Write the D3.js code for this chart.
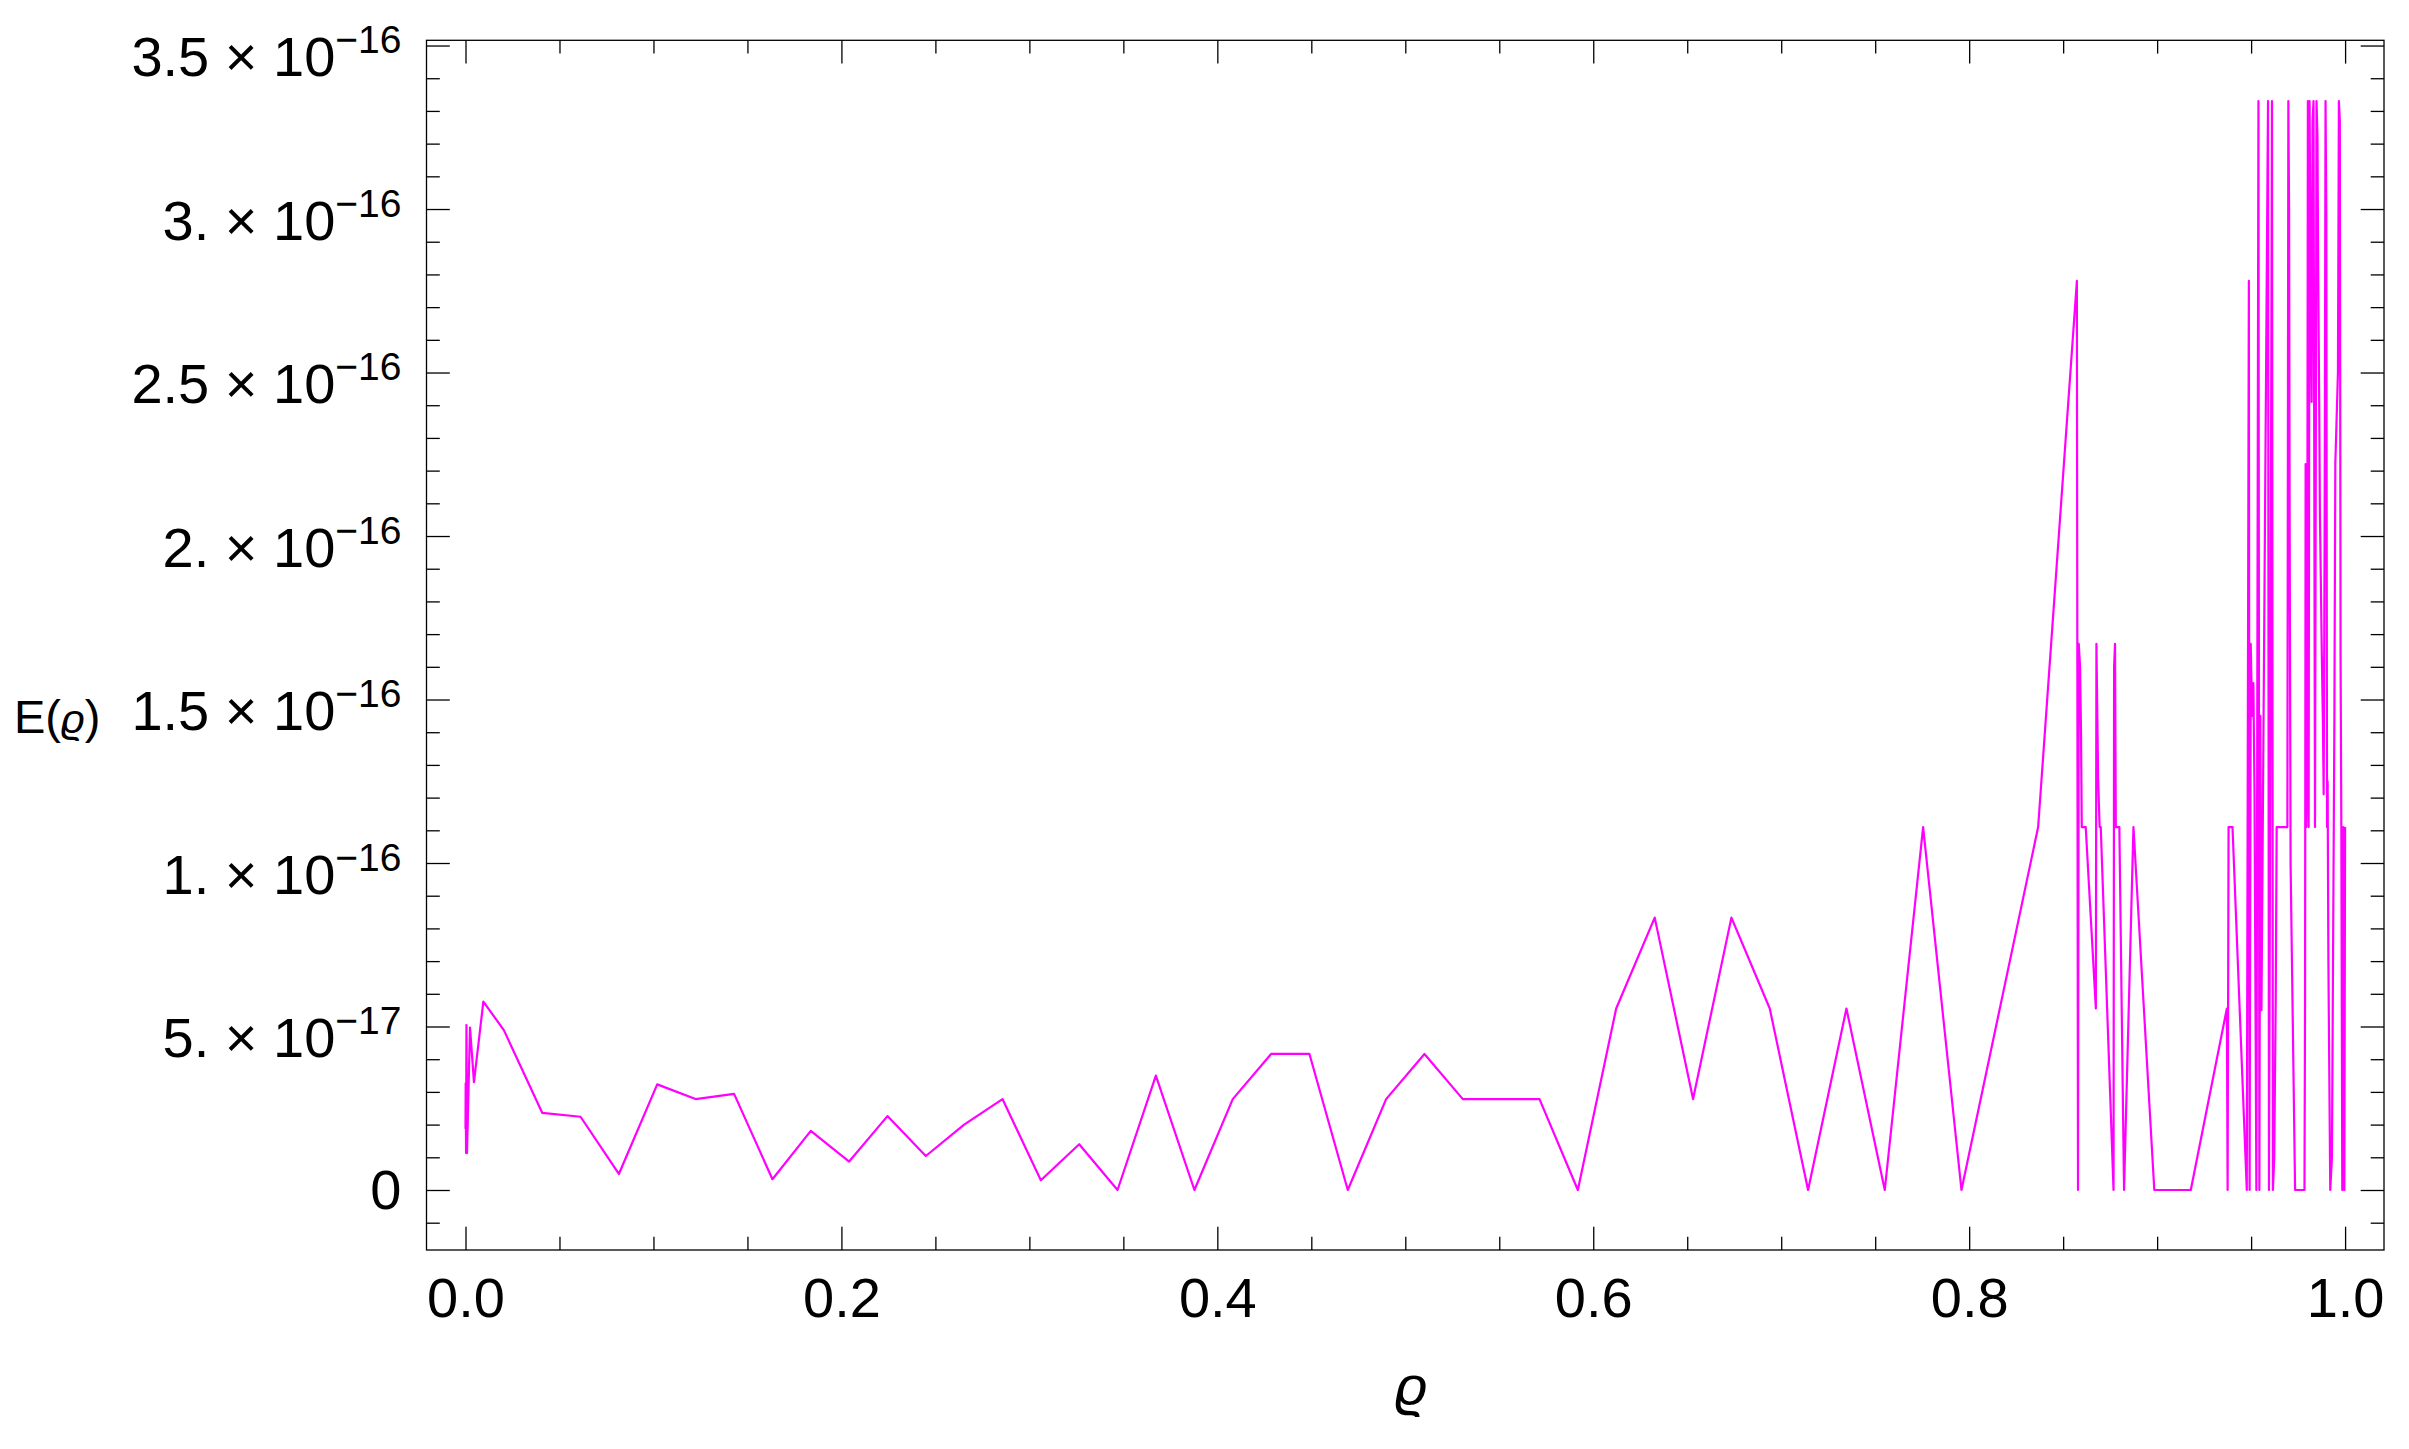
<!DOCTYPE html>
<html>
<head>
<meta charset="utf-8">
<script src="https://cdn.jsdelivr.net/npm/d3@7"></script>
<style>
  body { margin: 0; background: #fff; }
  svg { display: block; background: #fff; }
  text { font-family: "Liberation Sans", Arial, "DejaVu Sans", sans-serif; fill: #000; }
</style>
</head>
<body>
<svg id="svg" width="2409" height="1449"></svg>
<script>
// rho sample points and E(rho) (E in units of 1e-16)
const rhoVals = [
  0, 0.0001, 0.0003, 0.0005, 0.0008, 0.0024, 0.0045, 0.0095, 0.0204,
  0.0408, 0.0612, 0.0816, 0.1020, 0.1224, 0.1429, 0.1633, 0.1837, 0.2041, 0.2245,
  0.2449, 0.2653, 0.2857, 0.3061, 0.3265, 0.3469, 0.3673, 0.3878, 0.4082, 0.4286,
  0.4490, 0.4694, 0.4898, 0.5102, 0.5306, 0.5510, 0.5714, 0.5918, 0.6122, 0.6327,
  0.6531, 0.6735, 0.6939, 0.7143, 0.7347, 0.7551, 0.7755, 0.7959, 0.8163, 0.8367,
  0.8573, 0.8579, 0.8583, 0.8590, 0.8595, 0.8599, 0.8620, 0.8674, 0.8677, 0.8686,
  0.8694, 0.8700, 0.8768, 0.8771, 0.8776, 0.8780, 0.8799, 0.8824, 0.8874, 0.8985,
  0.9179, 0.9371, 0.9375, 0.9380, 0.9401, 0.9477, 0.9488, 0.9492, 0.9498, 0.9505,
  0.9512, 0.9518, 0.9528, 0.9539, 0.9544, 0.9549, 0.9555, 0.9590, 0.9595, 0.9601,
  0.9611, 0.9616, 0.9623, 0.9631, 0.9636, 0.9693, 0.9698, 0.9702, 0.9705, 0.9710,
  0.9734, 0.9784, 0.9787, 0.9790, 0.9793, 0.9798, 0.9802, 0.9806, 0.9811, 0.9816,
  0.9822, 0.9827, 0.9832, 0.9840, 0.9848, 0.9853, 0.9857, 0.9863, 0.9866, 0.9871,
  0.9876, 0.9882, 0.9886, 0.9891, 0.9896, 0.9900, 0.9904, 0.9907, 0.9911, 0.9917,
  0.9921, 0.9930, 0.9943, 0.9948, 0.9962, 0.9967, 0.9972, 0.9976, 0.9980, 0.9985,
  0.9991, 0.9996, 1.0
];
const errVals = [
  0.187, 0.326, 0.113, 0.504, 0.113, 0.497, 0.330, 0.576, 0.489,
  0.236, 0.224, 0.049, 0.323, 0.278, 0.294, 0.033, 0.181, 0.087, 0.226,
  0.104, 0.200, 0.278, 0.030, 0.140, 0, 0.350, 0, 0.278, 0.416,
  0.416, 0, 0.278, 0.416, 0.278, 0.278, 0.278, 0, 0.555, 0.833,
  0.278, 0.833, 0.555, 0, 0.555, 0, 1.11, 0, 0.555, 1.11,
  2.78, 0, 1.67, 1.60, 1.40, 1.11, 1.11, 0.555, 1.67, 1.26,
  1.11, 1.11, 0, 1.60, 1.67, 1.11, 1.11, 0, 1.11, 0,
  0, 0.555, 0, 1.11, 1.11, 0, 2.78, 0, 1.67, 1.45,
  1.55, 1.22, 0, 3.33, 0, 1.45, 0.55, 3.33, 0, 1.11,
  3.33, 0, 0.10, 0.59, 1.11, 1.11, 3.33, 3.00, 2.05, 1.00,
  0, 0, 0.58, 2.22, 1.11, 1.33, 3.33, 1.11, 3.33, 2.84,
  2.41, 3.27, 3.33, 1.11, 3.33, 3.22, 2.79, 2.35, 2.07, 1.86,
  1.64, 1.43, 1.21, 1.99, 3.33, 2.98, 1.11, 1.25, 0.71, 0.285,
  0, 0.10, 1.44, 2.22, 2.50, 3.33, 3.27, 1.63, 1.11, 0,
  1.11, 0, 1.11
];

const xTickValues = [0, 0.2, 0.4, 0.6, 0.8, 1.0];
const xTickLabels = ["0.0", "0.2", "0.4", "0.6", "0.8", "1.0"];
const yTickValues = [0, 0.5e-16, 1e-16, 1.5e-16, 2e-16, 2.5e-16, 3e-16, 3.5e-16];
const yTickMantissa = ["0", "5.", "1.", "1.5", "2.", "2.5", "3.", "3.5"];
const yTickExponent = ["", "\u221217", "\u221216", "\u221216", "\u221216", "\u221216", "\u221216", "\u221216"];

const data = rhoVals.map((r, i) => ({rho: r, e: errVals[i] * 1e-16}));

const svg = d3.select("#svg");
var frame = {left: 426.5, right: 2384, top: 40.3, bottom: 1250};

var x = d3.scaleLinear().domain([-0.02075, 1.0207]).range([frame.left, frame.right]);
var y = d3.scaleLinear().domain([-0.1835e-16, 3.516e-16]).range([frame.bottom, frame.top]);

const majorLen = 23.3, minorLen = 13.3;
const xMinor = d3.range(1, 20).map(i => i * 0.05).filter(v => Math.abs(v * 5 - Math.round(v * 5)) > 1e-6);
const yMinor = d3.range(-1, 36).map(i => i * 1e-17).filter((v, i) => (i - 1) % 5 !== 0);

function styleAxis(g) {
  g.attr("font-family", null).attr("font-size", null);
  g.select(".domain").remove();
  g.selectAll(".tick line").attr("stroke", "#000").attr("stroke-width", 1.3);
}

// bottom axis, ticks pointing inward
svg.append("g")
    .attr("transform", "translate(0," + frame.bottom + ")")
    .call(d3.axisBottom(x).tickValues(xMinor).tickSizeInner(-minorLen).tickSizeOuter(0).tickFormat(""))
    .call(styleAxis);
const xAxisG = svg.append("g")
    .attr("transform", "translate(0," + frame.bottom + ")")
    .call(d3.axisBottom(x).tickValues(xTickValues).tickSizeInner(-majorLen).tickSizeOuter(0)
      .tickPadding(27).tickFormat((d, i) => xTickLabels[i]))
    .call(styleAxis);
xAxisG.selectAll(".tick text").style("font-size", "56px");

// top axis (mirrored ticks, no labels)
svg.append("g")
    .attr("transform", "translate(0," + frame.top + ")")
    .call(d3.axisTop(x).tickValues(xMinor).tickSizeInner(-minorLen).tickSizeOuter(0).tickFormat(""))
    .call(styleAxis);
svg.append("g")
    .attr("transform", "translate(0," + frame.top + ")")
    .call(d3.axisTop(x).tickValues(xTickValues).tickSizeInner(-majorLen).tickSizeOuter(0).tickFormat(""))
    .call(styleAxis);

// left axis
svg.append("g")
    .attr("transform", "translate(" + frame.left + ",0)")
    .call(d3.axisLeft(y).tickValues(yMinor).tickSizeInner(-minorLen).tickSizeOuter(0).tickFormat(""))
    .call(styleAxis);
const yAxisG = svg.append("g")
    .attr("transform", "translate(" + frame.left + ",0)")
    .call(d3.axisLeft(y).tickValues(yTickValues).tickSizeInner(-majorLen).tickSizeOuter(0)
      .tickPadding(25).tickFormat(""))
    .call(styleAxis);

yAxisG.selectAll(".tick text").each(function(d, i) {
  const t = d3.select(this).attr("dy", null).style("font-size", "56px");
  if (!yTickExponent[i]) {
    t.attr("y", 19).text(yTickMantissa[i]);
    return;
  }
  t.attr("y", 30).text(null);
  t.append("tspan").text(yTickMantissa[i] + " \u00d7 10");
  t.append("tspan").attr("dy", -23).style("font-size", "39px").text(yTickExponent[i]);
});

// right axis
svg.append("g")
    .attr("transform", "translate(" + frame.right + ",0)")
    .call(d3.axisRight(y).tickValues(yMinor).tickSizeInner(-minorLen).tickSizeOuter(0).tickFormat(""))
    .call(styleAxis);
svg.append("g")
    .attr("transform", "translate(" + frame.right + ",0)")
    .call(d3.axisRight(y).tickValues(yTickValues).tickSizeInner(-majorLen).tickSizeOuter(0).tickFormat(""))
    .call(styleAxis);

// frame
svg.append("rect")
    .attr("x", frame.left)
    .attr("y", frame.top)
    .attr("width", frame.right - frame.left)
    .attr("height", frame.bottom - frame.top)
    .attr("fill", "none")
    .attr("stroke", "#000")
    .attr("stroke-width", 1.3);

// the curve
const line = d3.line()
    .x(d => x(d.rho))
    .y(d => y(d.e));

svg.append("path")
    .datum(data)
    .attr("d", line)
    .attr("fill", "none")
    .attr("stroke", "#ff00ff")
    .attr("stroke-width", 2.2)
    .attr("stroke-linejoin", "round");

// axis labels
svg.append("text")
    .attr("x", 14)
    .attr("y", 733)
    .style("font-size", "47px")
    .html('E(<tspan font-style="italic" font-size="41px">\u03f1</tspan>)');

svg.append("text")
    .attr("x", (frame.left + frame.right) / 2 + 6)
    .attr("y", 1405)
    .attr("text-anchor", "middle")
    .style("font-size", "56px")
    .style("font-style", "italic")
    .text("\u03f1");
</script>
</body>
</html>
